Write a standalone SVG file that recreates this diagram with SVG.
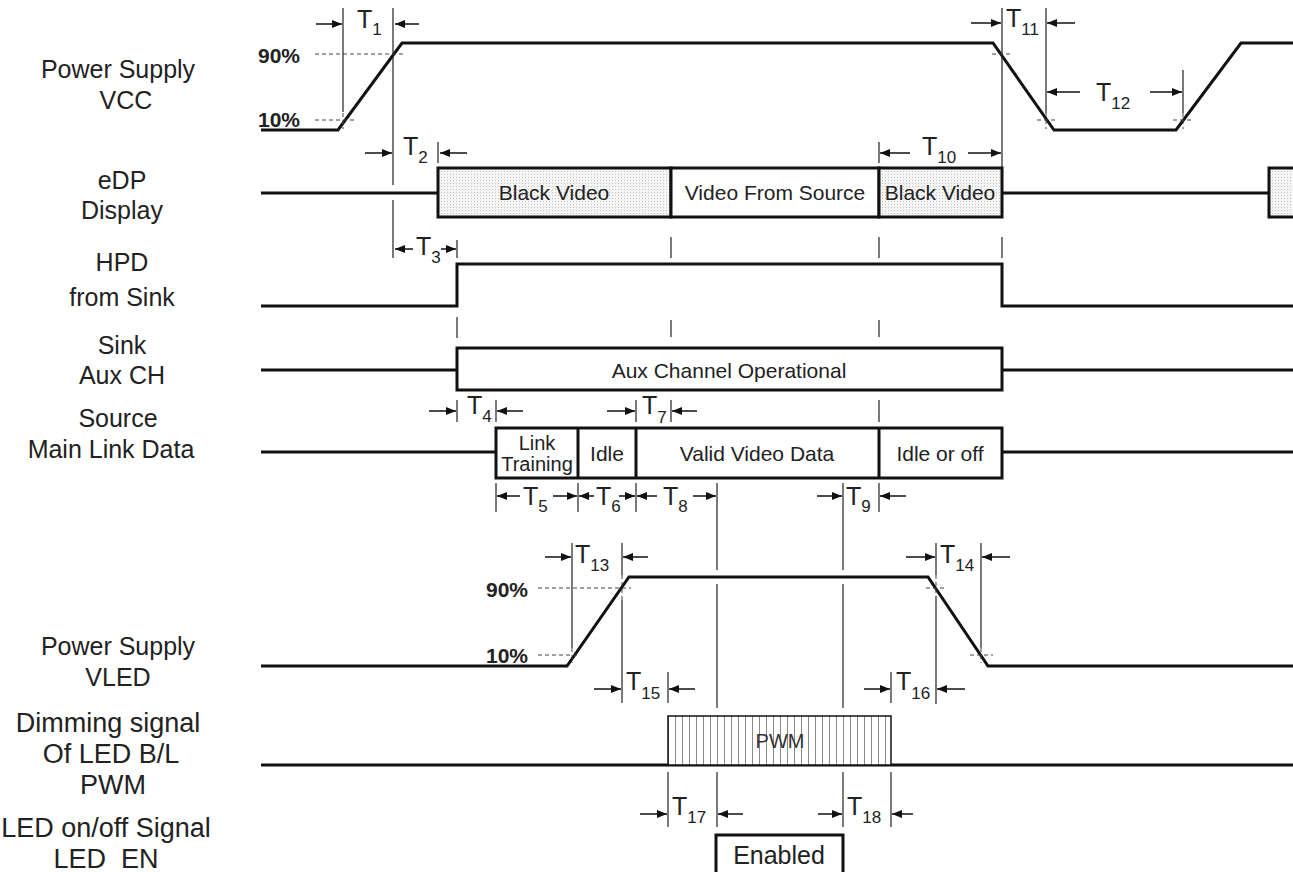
<svg xmlns="http://www.w3.org/2000/svg" width="1293" height="872" viewBox="0 0 1293 872">
<style>
.lbl{font-family:"Liberation Sans",Arial,sans-serif;font-size:25px;fill:#222;text-anchor:middle}
.lb2{font-size:27px}
.pct{font-family:"Liberation Sans",Arial,sans-serif;font-size:21px;font-weight:bold;fill:#222}
.bt{font-family:"Liberation Sans",Arial,sans-serif;font-size:21px;fill:#222;text-anchor:middle}
.t{font-family:"Liberation Sans",Arial,sans-serif;font-size:25px;fill:#222}
.s{font-size:17px}
.w{fill:none;stroke:#111;stroke-width:3;stroke-linejoin:miter}
.bx{stroke:#111;stroke-width:3}
.th{stroke:#222;stroke-width:1.2;fill:none}
.ds{stroke:#444;stroke-width:1;stroke-dasharray:4 3;fill:none}
.ar{stroke:#111;stroke-width:1.5;fill:none;marker-end:url(#ah)}
</style>
<defs>
<marker id="ah" markerWidth="10" markerHeight="8" refX="10" refY="4" orient="auto" markerUnits="userSpaceOnUse"><path d="M0,0 L10,4 L0,8 Z" fill="#111"/></marker>
<pattern id="dots" width="3" height="3" patternUnits="userSpaceOnUse"><rect width="3" height="3" fill="#f5f5f5"/><rect width="1" height="1" fill="#c4c4c4"/></pattern>
<pattern id="hatch" width="7" height="10" patternUnits="userSpaceOnUse"><rect width="7" height="10" fill="#fff"/><line x1="3.5" y1="0" x2="3.5" y2="10" stroke="#8a8a8a" stroke-width="1"/></pattern>
</defs>
<rect width="1293" height="872" fill="#fff"/>

<g id="labels">
<text class="lbl" x="118" y="78">Power Supply</text>
<text class="lbl" x="126" y="109">VCC</text>
<text class="lbl" x="122" y="189">eDP</text>
<text class="lbl" x="122" y="219">Display</text>
<text class="lbl" x="122" y="271">HPD</text>
<text class="lbl" x="122" y="306">from Sink</text>
<text class="lbl" x="122" y="354">Sink</text>
<text class="lbl" x="122" y="384">Aux CH</text>
<text class="lbl" x="118" y="427">Source</text>
<text class="lbl" x="111" y="458">Main Link Data</text>
<text class="lbl" x="118" y="655">Power Supply</text>
<text class="lbl" x="118" y="686">VLED</text>
<text class="lbl lb2" x="108" y="732">Dimming signal</text>
<text class="lbl lb2" x="111" y="763">Of LED B/L</text>
<text class="lbl lb2" x="113" y="794">PWM</text>
<text class="lbl lb2" x="106" y="837">LED on/off Signal</text>
<text class="lbl lb2" x="106" y="868">LED_EN</text>
</g>

<g id="vcc">
<path class="w" d="M261,130 H338 L402,43 H993 L1054,130 H1176 L1241,43 H1293"/>
<text class="pct" x="258" y="63">90%</text>
<text class="pct" x="258" y="127">10%</text>
<path class="ds" d="M315,54 H404 M315,120 H354 M992,54 H1012 M1037,120 H1058 M1173,120 H1194 M343,113 V129 M1046,113 V129 M1183,113 V129"/>
</g>

<g id="edp">
<path class="w" d="M261,193 H438 M1002,193 H1269"/>
<rect class="bx" x="438" y="168" width="233" height="49" fill="url(#dots)"/>
<rect class="bx" x="671" y="168" width="208" height="49" fill="#fff"/>
<rect class="bx" x="879" y="168" width="123" height="49" fill="url(#dots)"/>
<rect class="bx" x="1269" y="168" width="40" height="49" fill="url(#dots)"/>
<text class="bt" x="554" y="200">Black Video</text>
<text class="bt" x="775" y="200">Video From Source</text>
<text class="bt" x="940" y="200">Black Video</text>
</g>

<g id="hpd">
<path class="w" d="M261,306 H457 V264 H1002 V306 H1293"/>
</g>

<g id="aux">
<path class="w" d="M261,370 H457 M1002,370 H1293"/>
<rect class="bx" x="457" y="348" width="545" height="42" fill="#fff"/>
<text class="bt" x="729" y="378">Aux Channel Operational</text>
</g>

<g id="mainlink">
<path class="w" d="M261,452 H496 M1002,452 H1293"/>
<rect class="bx" x="496" y="428" width="506" height="50" fill="#fff"/>
<path class="bx" d="M578,428 V478 M636,428 V478 M879,428 V478"/>
<text class="bt" x="537" y="450" style="font-size:20px">Link</text>
<text class="bt" x="537" y="471" style="font-size:20px">Training</text>
<text class="bt" x="607" y="461">Idle</text>
<text class="bt" x="757" y="461">Valid Video Data</text>
<text class="bt" x="940" y="461">Idle or off</text>
</g>

<g id="vled">
<path class="w" d="M261,666 H567 L629,577 H928 L988,666 H1293"/>
<text class="pct" x="486" y="597">90%</text>
<text class="pct" x="486" y="663">10%</text>
<path class="ds" d="M538,588 H631 M538,655 H578 M926,588 H947 M970,655 H993 M572,648 V663 M622,575 V600 M936,575 V596 M981,648 V663"/>
</g>

<g id="pwm">
<path class="w" d="M261,765 H1293"/>
<rect x="668" y="716" width="223" height="49" fill="url(#hatch)" stroke="#111" stroke-width="1.5"/>
<text class="bt" x="780" y="748" style="font-size:20px;fill:#333">PWM</text>
</g>

<g id="leden">
<rect class="bx" x="716" y="835" width="127" height="50" fill="#fff"/>
<text class="bt" x="779" y="864" style="font-size:25px">Enabled</text>
</g>

<g id="connectors">
<path class="th" d="M343,8 V112 M393,8 V185 M393,200 V258 M438,142 V163 M457,240 V258 M457,317 V338 M457,400 V422 M496,400 V422 M496,483 V512 M578,483 V512 M636,400 V422 M636,483 V512 M671,237 V258 M671,320 V337 M671,400 V422 M717,483 V570 M717,584 V708 M717,772 V827 M843,483 V570 M843,584 V708 M843,772 V827 M879,142 V163 M879,237 V258 M879,320 V337 M879,400 V422 M879,483 V512 M1002,8 V168 M1002,237 V258 M1046,8 V113 M1183,70 V113 M572,543 V648 M622,543 V575 M622,600 V703 M936,543 V575 M936,596 V704 M981,543 V648 M668,672 V703 M668,772 V827 M891,672 V703 M891,772 V827"/>
<line class="ar" x1="316" y1="24" x2="342" y2="24"/><line class="ar" x1="419" y1="24" x2="395" y2="24"/>
<line class="ar" x1="365" y1="153" x2="392" y2="153"/><line class="ar" x1="467" y1="153" x2="440" y2="153"/>
<line class="ar" x1="413" y1="249" x2="395" y2="249"/><line class="ar" x1="441" y1="249" x2="456" y2="249"/>
<line class="ar" x1="429" y1="411" x2="456" y2="411"/><line class="ar" x1="523" y1="411" x2="497" y2="411"/>
<line class="ar" x1="607" y1="411" x2="635" y2="411"/><line class="ar" x1="697" y1="411" x2="672" y2="411"/>
<line class="ar" x1="520" y1="496" x2="497" y2="496"/><line class="ar" x1="553" y1="496" x2="577" y2="496"/>
<line class="ar" x1="594" y1="496" x2="579" y2="496"/><line class="ar" x1="619" y1="496" x2="635" y2="496"/>
<line class="ar" x1="657" y1="496" x2="637" y2="496"/><line class="ar" x1="693" y1="496" x2="716" y2="496"/>
<line class="ar" x1="817" y1="496" x2="842" y2="496"/><line class="ar" x1="906" y1="496" x2="880" y2="496"/>
<line class="ar" x1="910" y1="153" x2="880" y2="153"/><line class="ar" x1="968" y1="153" x2="1001" y2="153"/>
<line class="ar" x1="971" y1="23" x2="1001" y2="23"/><line class="ar" x1="1075" y1="23" x2="1047" y2="23"/>
<line class="ar" x1="1080" y1="92" x2="1047" y2="92"/><line class="ar" x1="1150" y1="92" x2="1182" y2="92"/>
<line class="ar" x1="545" y1="557" x2="571" y2="557"/><line class="ar" x1="648" y1="557" x2="623" y2="557"/>
<line class="ar" x1="906" y1="557" x2="935" y2="557"/><line class="ar" x1="1010" y1="557" x2="982" y2="557"/>
<line class="ar" x1="594" y1="689" x2="621" y2="689"/><line class="ar" x1="695" y1="689" x2="669" y2="689"/>
<line class="ar" x1="864" y1="689" x2="890" y2="689"/><line class="ar" x1="965" y1="689" x2="937" y2="689"/>
<line class="ar" x1="640" y1="814" x2="667" y2="814"/><line class="ar" x1="743" y1="814" x2="718" y2="814"/>
<line class="ar" x1="818" y1="814" x2="842" y2="814"/><line class="ar" x1="913" y1="814" x2="892" y2="814"/>
<text class="t" x="357" y="28">T<tspan class="s" dy="7">1</tspan></text>
<text class="t" x="403" y="155">T<tspan class="s" dy="8">2</tspan></text>
<text class="t" x="416" y="255">T<tspan class="s" dy="8">3</tspan></text>
<text class="t" x="467" y="414">T<tspan class="s" dy="8">4</tspan></text>
<text class="t" x="523" y="505">T<tspan class="s" dy="7">5</tspan></text>
<text class="t" x="596" y="505">T<tspan class="s" dy="7">6</tspan></text>
<text class="t" x="642" y="414">T<tspan class="s" dy="9">7</tspan></text>
<text class="t" x="663" y="505">T<tspan class="s" dy="7">8</tspan></text>
<text class="t" x="846" y="505">T<tspan class="s" dy="7">9</tspan></text>
<text class="t" x="922" y="155">T<tspan class="s" dy="8">10</tspan></text>
<text class="t" x="1006" y="27">T<tspan class="s" dy="8">11</tspan></text>
<text class="t" x="1096" y="101">T<tspan class="s" dy="8">12</tspan></text>
<text class="t" x="575" y="563">T<tspan class="s" dy="8">13</tspan></text>
<text class="t" x="940" y="563">T<tspan class="s" dy="8">14</tspan></text>
<text class="t" x="626" y="690">T<tspan class="s" dy="9">15</tspan></text>
<text class="t" x="896" y="690">T<tspan class="s" dy="9">16</tspan></text>
<text class="t" x="672" y="815">T<tspan class="s" dy="8">17</tspan></text>
<text class="t" x="847" y="815">T<tspan class="s" dy="8">18</tspan></text>
</g>
</svg>
